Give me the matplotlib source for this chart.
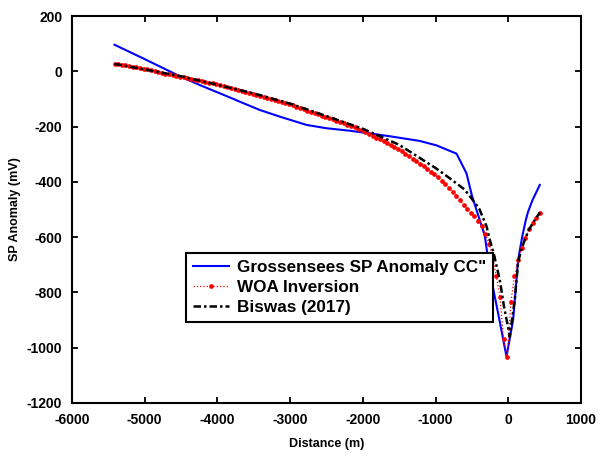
import matplotlib
matplotlib.use('Agg')
import matplotlib.pyplot as plt

plt.rcParams['font.family'] = ['Liberation Sans', 'DejaVu Sans']
plt.rcParams['font.weight'] = 'bold'
plt.rcParams['axes.unicode_minus'] = False

# observed SP anomaly (Grossensees)
x_obs = [-5415, -5000, -4540, -4240, -3780, -3692, -3417, -3142, -2775, -2500,
         -2179, -1904, -1629, -1217, -987, -712, -650, -575, -500, -415,
         -323, -254, -117, -25, 66, 135, 190, 241, 272, 333, 433]
y_obs = [96, 44, -15, -50, -100, -110, -140, -164, -194, -206,
         -215, -225, -235, -252, -268, -298, -330, -369, -450, -520,
         -595, -725, -906, -1032, -900, -683, -600, -538, -508, -466, -411]

# WOA inversion
x_woa = [-5415, -5365, -5315, -5265, -5215, -5165, -5115, -5065, -5015, -4965,
         -4915, -4865, -4815, -4765, -4715, -4665, -4615, -4565, -4515, -4465,
         -4415, -4365, -4315, -4265, -4215, -4165, -4115, -4065, -4015, -3965,
         -3915, -3865, -3815, -3765, -3715, -3665, -3615, -3565, -3515, -3465,
         -3415, -3365, -3315, -3265, -3215, -3165, -3115, -3065, -3015, -2965,
         -2915, -2865, -2815, -2765, -2715, -2665, -2615, -2565, -2515, -2465,
         -2415, -2365, -2315, -2265, -2215, -2165, -2115, -2065, -2015, -1965,
         -1915, -1865, -1815, -1765, -1715, -1665, -1615, -1565, -1515, -1465,
         -1415, -1365, -1315, -1265, -1215, -1165, -1115, -1065, -1015, -965,
         -915, -865, -815, -765, -715, -665, -615, -565, -515, -465,
         -415, -365, -315, -265, -215, -165, -115, -65, -15, 35,
         85, 135, 185, 235, 285, 335, 385, 435]
y_woa = [27, 25, 23, 21, 18, 16, 14, 12, 10, 7,
         4, 1, -2, -5, -8, -11, -13, -16, -19, -22,
         -25, -28, -31, -33, -36, -39, -42, -44, -47, -50,
         -54, -57, -61, -64, -68, -71, -75, -78, -82, -86,
         -89, -93, -97, -101, -104, -108, -112, -115, -119, -123,
         -128, -132, -137, -142, -146, -151, -155, -160, -165, -169,
         -174, -179, -183, -188, -193, -198, -203, -207, -212, -219,
         -226, -233, -240, -246, -253, -260, -267, -274, -280, -289,
         -298, -307, -317, -326, -335, -344, -354, -363, -372, -384,
         -396, -409, -423, -437, -452, -467, -483, -498, -512, -525,
         -540, -560, -588, -624, -672, -740, -818, -970, -1035, -835,
         -742, -683, -638, -603, -572, -550, -530, -511]

# Biswas (2017)
x_bis = [-5415, -4500, -3500, -3000, -2500, -2000, -1500, -1000, -800, -600,
         -500, -400, -300, -254, -200, -117, -60, 0, 20, 50,
         89, 135, 185, 235, 285, 335, 385, 435]
y_bis = [27, -18, -80, -117, -162, -208, -266, -350, -388, -428,
         -462, -497, -560, -610, -660, -755, -850, -930, -960, -900,
         -827, -689, -640, -604, -573, -550, -530, -511]

fig = plt.figure(figsize=(5.98, 4.55), dpi=100)
ax = fig.add_axes([0.1204, 0.1143, 0.8512, 0.8505])

ax.plot(x_obs, y_obs, color='#0000ff', lw=1.5, label='Grossensees SP Anomaly CC"')
ax.plot(x_woa, y_woa, color='red', ls=':', lw=0.9, marker='o', ms=3.4,
        markeredgewidth=0, label='WOA Inversion')
ax.plot(x_bis, y_bis, color='black', lw=1.8, dashes=(3, 1.2, 1, 1.2),
        label='Biswas (2017)')

ax.set_xlim(-6000, 1000)
ax.set_ylim(-1200, 200)
ax.set_xticks(range(-6000, 1001, 1000))
ax.set_yticks(range(-1200, 201, 200))
ax.tick_params(direction='in', top=True, right=True, labelsize=10, width=1.3,
               length=4, pad=7)
for s in ax.spines.values():
    s.set_linewidth(1.5)
ax.set_xlabel('Distance (m)', fontsize=9, fontweight='bold', labelpad=8)
ax.set_ylabel('SP Anomaly (mV)', fontsize=9, fontweight='bold', labelpad=4)

leg = ax.legend(loc='lower left', bbox_to_anchor=(0.224, 0.209), fontsize=12.3,
                frameon=True, fancybox=False, edgecolor='black', framealpha=1,
                handlelength=2.1, handletextpad=0.45, labelspacing=0.28,
                borderpad=0.42, borderaxespad=0)
leg.get_frame().set_linewidth(1.5)
for t in leg.get_texts():
    t.set_fontweight('bold')

fig.savefig('out.png', dpi=100)
